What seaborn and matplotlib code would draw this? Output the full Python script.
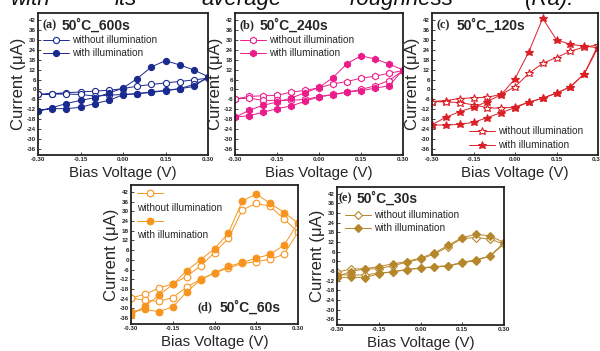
import matplotlib
matplotlib.use('Agg')
import matplotlib.pyplot as plt
import seaborn as sns
import pandas as pd

sns.set_theme(style='ticks')
plt.rcParams['font.family'] = ['Liberation Sans', 'DejaVu Sans']
plt.rcParams['axes.unicode_minus'] = False

# Bias voltage sweep: -0.30 -> 0.30 -> -0.30 (V)
V = [-0.30, -0.25, -0.20, -0.15, -0.10, -0.05, 0.00, 0.05, 0.10, 0.15, 0.20, 0.25, 0.30,
     0.25, 0.20, 0.15, 0.10, 0.05, 0.00, -0.05, -0.10, -0.15, -0.20, -0.25, -0.30]

# Current (uA)
a_dark = [-3, -2.5, -2, -1.5, -1, -0.5, 0.5, 2, 3, 4, 4.8, 5.8, 6.8,
          3, 0.5, -0.5, -1.5, -2.5, -3, -3.5, -4, -3, -2.8, -2.8, -3]
a_light = [-13, -11, -8.5, -6.6, -5, -2.2, 0.8, 6.6, 13.6, 17.4, 14.8, 11.8, 7.8,
           1.8, 0.4, -0.8, -1.8, -2.6, -3.2, -6.6, -8.5, -10.8, -11.6, -11.6, -12.8]
b_dark = [-5.8, -4.2, -3.8, -3.6, -1.6, -0.6, 1.0, 3.4, 4.8, 6.8, 8, 9.8, 11.4,
          5.4, 2.2, 0, -1.6, -3, -4.4, -6, -6.6, -6.6, -6.6, -5.2, -5.8]
b_light = [-16.8, -12.6, -9.6, -7.6, -5.2, -2, 1.2, 7.2, 15.6, 20.4, 18.4, 15.4, 11.8,
           2.2, 0.8, -0.8, -1.6, -3.2, -4.4, -7.2, -10, -11.6, -13.8, -15.8, -16.8]
c_dark = [-7.3, -6.7, -5.5, -5, -4.7, -3, 1.6, 9.7, 15.8, 19.3, 23.1, 25.7, 26.8,
          9.3, 1.6, -2.2, -5.3, -7.7, -10.5, -11.4, -11, -9.3, -7.9, -7.5, -7.3]
c_light = [-21.3, -16.8, -13.4, -10.8, -7.3, -3.2, 6.5, 22.7, 43, 30, 27.2, 26.2, 25.2,
           9.3, 1.6, -2.2, -5.3, -7.7, -11, -14, -17, -19.9, -21.1, -21.5, -21.5]
d_dark = [-23.5, -21.3, -17.4, -14.8, -10.3, -3.7, 4.5, 13.2, 30.8, 34.9, 33, 25.2, 17.2,
          3.4, 0.4, -1.2, -2.2, -5.1, -8.1, -12, -16.8, -23.3, -25.6, -25, -23.5]
d_light = [-34, -28.6, -21.9, -15.2, -6.7, 0, 6.9, 16.6, 36.3, 40.6, 34.9, 29.2, 22.7,
           9.1, 3.4, 1, -1.6, -4, -8.1, -12.2, -19.9, -29, -32, -30.6, -32]
e_dark = [-6.8, -4.7, -4.7, -4.7, -2.7, -0.6, 1.4, 4.5, 9.2, 14.2, 14.8, 13.8, 10.7,
          3.3, 0.5, -1, -3, -3.5, -4.3, -5.3, -6.6, -7.3, -8.5, -8.5, -8.5]
e_light = [-9.4, -6.4, -4.7, -3.3, -1.6, -0.2, 2.1, 5.1, 10, 14.8, 16.8, 15.8, 11.7,
           3.3, 1, -0.6, -2.7, -3.3, -4.1, -5.1, -6.4, -7.8, -10.1, -9.9, -10.3]

tags = ['(a)', '(b)', '(c)', '(d)', '(e)']
titles = ['50˚C_600s', '50˚C_240s', '50˚C_120s', '50˚C_60s', '50˚C_30s']
labels = ['without illumination', 'with illumination']
x_ticks = [-0.30, -0.15, 0.00, 0.15, 0.30]
y_ticks = [-36, -30, -24, -18, -12, -6, 0, 6, 12, 18, 24, 30, 36, 42]

panels = [
    dict(dark=a_dark, light=a_light, color='#1b2a8f', marker='o', ms=4.4,
         rect=[38/600, 1-155/351, 170/600, 142/351]),
    dict(dark=b_dark, light=b_light, color='#ec1c8a', marker='h', ms=4.8,
         rect=[235/600, 1-155/351, 168/600, 142/351]),
    dict(dark=c_dark, light=c_light, color='#db1f26', marker='*', ms=6.2,
         rect=[432/600, 1-155/351, 166/600, 142/351]),
    dict(dark=d_dark, light=d_light, color='#f7941d', marker='o', ms=4.8,
         rect=[131/600, 1-324/351, 167/600, 139/351]),
    dict(dark=e_dark, light=e_light, color='#b5862a', marker='D', ms=3.8,
         rect=[337/600, 1-325/351, 167/600, 138/351]),
]

fig = plt.figure(figsize=(6, 3.51), dpi=100)

# clipped caption line from the page above
for word, xpos in [('with', 11), ('its', 115), ('average', 201), ('roughness', 350), ('(Ra).', 525)]:
    fig.text(xpos/600, 1-5/351, word, fontsize=16, style='italic', va='baseline', ha='left',
             color='#111111')

axes = []
for i, p in enumerate(panels):
    ax = fig.add_axes(p['rect'])
    axes.append(ax)
    c = p['color']
    sns.lineplot(x=V, y=p['dark'], sort=False, estimator=None, ax=ax, color=c,
                 marker=p['marker'], markersize=p['ms'], markerfacecolor='white',
                 markeredgecolor=c, markeredgewidth=0.8, linewidth=0.7, label=labels[0])
    sns.lineplot(x=V, y=p['light'], sort=False, estimator=None, ax=ax, color=c,
                 marker=p['marker'], markersize=p['ms'], markerfacecolor=c,
                 markeredgecolor=c, markeredgewidth=0.8, linewidth=0.7, label=labels[1])
    ax.set_xlim(-0.30, 0.30)
    ax.set_ylim(-39.6, 46.2)
    ax.set_xticks(x_ticks)
    ax.set_xticklabels([f'{v:.2f}' for v in x_ticks])
    ax.set_yticks(y_ticks)
    ax.set_yticklabels([str(v) for v in y_ticks])
    ax.tick_params(direction='in', length=2, width=0.6, labelsize=4.5, pad=1.5)
    for lab in ax.get_xticklabels() + ax.get_yticklabels():
        lab.set_fontweight('bold')
    for s in ax.spines.values():
        s.set_linewidth(1.3)
        s.set_color('#222222')
    ax.set_xlabel('Bias Voltage (V)', fontsize=10.8, labelpad=2.5)
    ax.set_ylabel('Current (μA)', fontsize=12, labelpad=0.5)
    handles, _ = ax.get_legend_handles_labels()
    if i in (0, 1):
        ax.legend(handles, labels, loc='upper left', bbox_to_anchor=(0.03, 0.845),
                  frameon=False, fontsize=7.2, handlelength=2.6, handletextpad=0.3,
                  labelspacing=0.3, borderpad=0, borderaxespad=0)
    elif i == 2:
        ax.legend(handles, labels, loc='lower left', bbox_to_anchor=(0.22, 0.035),
                  frameon=False, fontsize=7.2, handlelength=2.6, handletextpad=0.3,
                  labelspacing=0.4, borderpad=0, borderaxespad=0)
    elif i == 3:
        ax.legend(handles, ['', ''], loc='upper left', bbox_to_anchor=(0.036, 0.978),
                  frameon=False, fontsize=7.2, handlelength=2.6, handletextpad=0.0,
                  labelspacing=1.85, borderpad=0, borderaxespad=0)
        ax.text(0.036, 0.835, labels[0], transform=ax.transAxes, fontsize=7.2,
                va='center', ha='left')
        ax.text(0.036, 0.64, labels[1], transform=ax.transAxes, fontsize=7.2,
                va='center', ha='left')
    else:
        ax.legend(handles, labels, loc='upper left', bbox_to_anchor=(0.048, 0.833),
                  frameon=False, fontsize=7.2, handlelength=2.6, handletextpad=0.3,
                  labelspacing=0.3, borderpad=0, borderaxespad=0)

tag_pos = [(0.024, 0.141, 0.915), (0.024, 0.149, 0.915), (0.03, 0.15, 0.915),
           (0.40, 0.533, 0.122), (0.006, 0.12, 0.92)]
for ax, tag, title, (xt, xs, yy) in zip(axes, tags, titles, tag_pos):
    ax.text(xt, yy, tag, transform=ax.transAxes, fontsize=8.8, fontweight='bold',
            family='Liberation Serif', va='center', ha='left')
    ax.text(xs, yy, title, transform=ax.transAxes, fontsize=10, fontweight='bold',
            va='center', ha='left')

fig.savefig('out.png', dpi=100)
